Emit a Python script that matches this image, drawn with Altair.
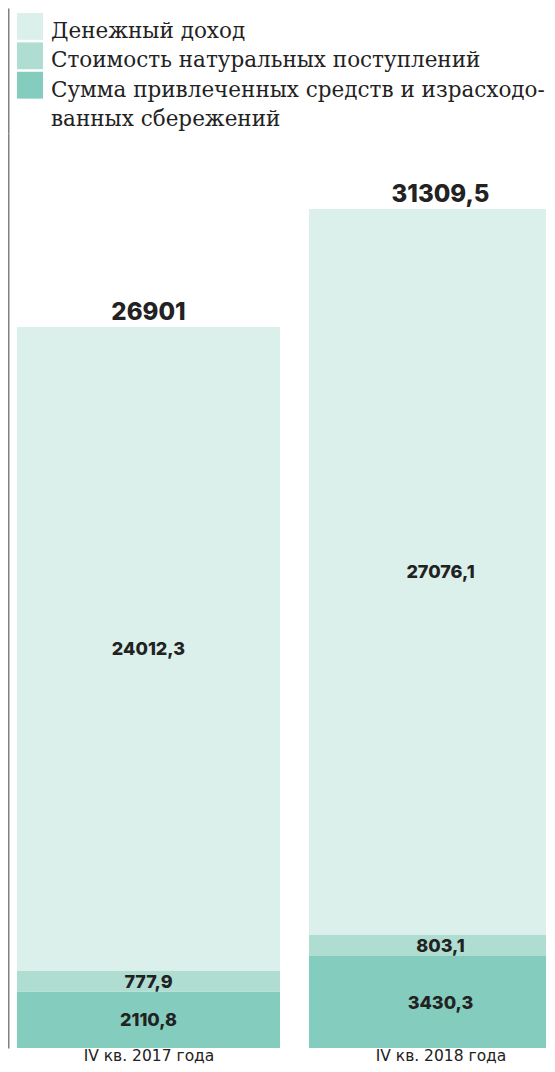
import altair as alt
import pandas as pd

periods = ["IV кв. 2017 года", "IV кв. 2018 года"]
categories = [
    "Денежный доход",
    "Стоимость натуральных поступлений",
    "Сумма привлеченных средств и израсходованных сбережений",
]
money_income = [24012.3, 27076.1]
natural_value = [777.9, 803.1]
borrowed_savings = [2110.8, 3430.3]
totals = [26901, 31309.5]
total_labels = ["26901", "31309,5"]
legend_lines = [
    "Денежный доход",
    "Стоимость натуральных поступлений",
    "Сумма привлеченных средств и израсходо-",
    "ванных сбережений",
]
colors = ["#dcf0eb", "#b0ddd2", "#84cdbe"]

# stacked rows, bottom to top
rows = []
for i, p in enumerate(periods):
    start = 0.0
    for order, (cat, vals) in enumerate(
        [(categories[2], borrowed_savings), (categories[1], natural_value), (categories[0], money_income)]
    ):
        v = vals[i]
        rows.append({
            "period": p,
            "category": cat,
            "value": v,
            "order": order,
            "mid": start + v / 2,
            "label": f"{v:.1f}".replace(".", ","),
        })
        start += v
df = pd.DataFrame(rows)
tot_df = pd.DataFrame({"period": periods, "total": totals, "label": total_labels})

leg_rect_df = pd.DataFrame({"line": [0, 1, 2], "category": categories})
leg_text_df = pd.DataFrame({"line": list(range(len(legend_lines))), "text": legend_lines})

color_scale = alt.Scale(domain=categories, range=colors)
frame_axis = dict(title=None, labels=False, ticks=False, grid=False,
                  domainColor="#808080", domainWidth=2)

x_enc = alt.X(
    "period:N", sort=periods,
    scale=alt.Scale(type="point", padding=0.4212, align=0.5711),
    axis=alt.Axis(title=None, labelAngle=0, domain=False, ticks=False,
                  labelFont="DejaVu Sans", labelFontSize=15.5, labelColor="#222222",
                  labelBaseline="top", labelPadding=0),
)
y_scale = alt.Scale(domain=[0, 34142])

bars = alt.Chart(df).mark_bar(clip=True, width=263).encode(
    x=x_enc,
    y=alt.Y("value:Q", stack="zero", scale=y_scale, axis=alt.Axis(**frame_axis)),
    color=alt.Color("category:N", scale=color_scale, legend=None),
    order=alt.Order("order:Q"),
)
inner = alt.Chart(df).mark_text(
    clip=True, font="Inter", fontWeight=800, fontSize=18,
    baseline="alphabetic", dy=6.5, color="#222222",
).encode(x=x_enc, y=alt.Y("mid:Q", scale=y_scale), text="label:N")
tots = alt.Chart(tot_df).mark_text(
    clip=True, font="Inter", fontWeight=800, fontSize=24,
    baseline="alphabetic", dy=-7, color="#222222",
).encode(x=x_enc, y=alt.Y("total:Q", scale=y_scale), text="label:N")

bar_chart = alt.layer(bars, inner, tots).properties(width=538, height=915)

y_leg = alt.Y("line:O", scale=alt.Scale(paddingInner=0.085, paddingOuter=0.17),
              axis=alt.Axis(**frame_axis))
leg_rect = alt.Chart(leg_rect_df).mark_rect().encode(
    x=alt.value(9), x2=alt.value(35), y=y_leg,
    color=alt.Color("category:N", scale=color_scale, legend=None),
)
leg_text = alt.Chart(leg_text_df).mark_text(
    align="left", baseline="alphabetic", dy=11.5,
    font="DejaVu Serif", fontSize=21.5, color="#222222",
).encode(x=alt.value(43), y=y_leg, text="text:N")
legend_chart = alt.layer(leg_rect, leg_text).properties(width=538, height=125)

chart = alt.vconcat(legend_chart, bar_chart, spacing=0).properties(
    padding=0
).configure_view(stroke=None)

chart.save("out.html", embed_options={"renderer": "svg", "actions": False})
